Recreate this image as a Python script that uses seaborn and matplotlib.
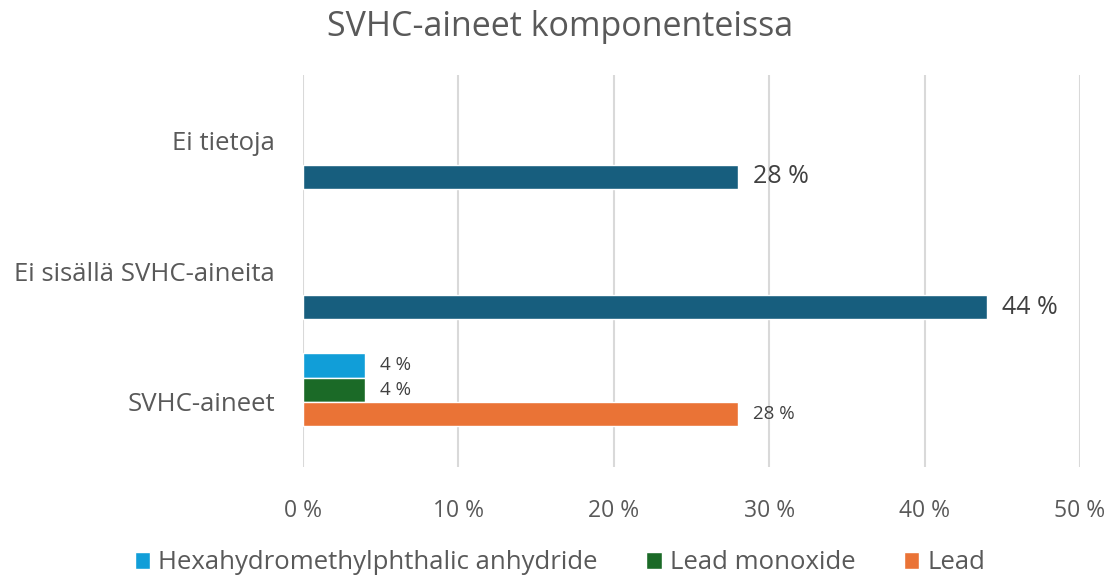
import pandas as pd
import matplotlib
matplotlib.use("Agg")
import matplotlib.pyplot as plt
import seaborn as sns
from matplotlib.patches import Patch

sns.set_style("white")
plt.rcParams["font.family"] = ["Open Sans", "DejaVu Sans"]

# data
categories = ["Ei tietoja", "Ei sisällä SVHC-aineita", "SVHC-aineet"]
series = ["Hexahydromethylphthalic anhydride", "Lead monoxide", "Lead", "Osuus"]
hexa = [None, None, 4]
lead_monoxide = [None, None, 4]
lead = [None, None, 28]
share = [28, 44, None]
colors = ["#119ED8", "#1B6A27", "#EA7336", "#175E7E"]
xticks = [0, 10, 20, 30, 40, 50]

rows = []
for name, vals in zip(series, [hexa, lead_monoxide, lead, share]):
    for cat, v in zip(categories, vals):
        if v is not None:
            rows.append({"Kategoria": cat, "Sarja": name, "Arvo": v})
df = pd.DataFrame(rows)

text_color = "#595959"

fig = plt.figure(figsize=(11.2, 5.78), dpi=100)
ax = fig.add_axes([0.2705, 0.192, 0.9643 - 0.2705, 0.8702 - 0.192])

sns.barplot(data=df, y="Kategoria", x="Arvo", hue="Sarja", order=categories,
            hue_order=series, palette=colors, orient="h", width=0.74,
            gap=0, saturation=1, legend=False, ax=ax, errorbar=None)

for cont, name in zip(ax.containers, series):
    if name == "Osuus":
        ax.bar_label(cont, fmt="{:.0f} %", padding=11, fontsize=18, color="#404040")
    else:
        ax.bar_label(cont, fmt="{:.0f} %", padding=11, fontsize=13.5, color="#404040")

ax.set_xlim(0, 50)
ax.set_ylim(2.5, -0.5)
ax.set_xticks(xticks)
ax.set_xticklabels([f"{t} %" for t in xticks])
ax.xaxis.grid(True, color="#D9D9D9", linewidth=1.5)
ax.set_axisbelow(True)
for s in ax.spines.values():
    s.set_visible(False)
ax.tick_params(axis="x", length=0, pad=23, labelsize=16.5, labelcolor=text_color)
ax.tick_params(axis="y", length=0, pad=20, labelsize=18.5, labelcolor=text_color)
ax.set_xlabel("")
ax.set_ylabel("")

fig.suptitle("SVHC-aineet komponenteissa", y=0.953, va="center",
             fontsize=24.5, color=text_color)

handles = [Patch(facecolor=c) for c in colors[:3]]
fig.legend(handles, series[:3], loc="center", bbox_to_anchor=(0.5, 0.026),
           ncol=3, frameon=False, fontsize=18.5, labelcolor=text_color,
           handlelength=0.6, handleheight=0.6, handletextpad=0.3,
           columnspacing=1.9, borderpad=0)

fig.savefig("out.png", dpi=100)
